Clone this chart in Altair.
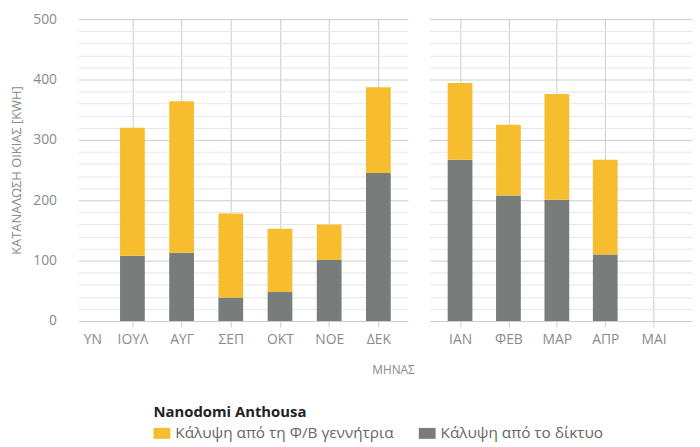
import altair as alt
import pandas as pd

# ---- data ----
months_h1 = ["ΙΟΥΝ", "ΙΟΥΛ", "ΑΥΓ", "ΣΕΠ", "ΟΚΤ", "ΝΟΕ", "ΔΕΚ"]
grid_h1 = [None, 108, 113, 39, 48, 101, 245]
pv_h1 = [None, 212, 251, 139, 105, 59, 142]

months_h2 = ["ΙΑΝ", "ΦΕΒ", "ΜΑΡ", "ΑΠΡ", "ΜΑΙ", "ΙΟΥΝ"]
grid_h2 = [267, 208, 201, 110, None, None]
pv_h2 = [127, 117, 175, 157, None, None]

S_PV = "Κάλυψη από τη Φ/Β γεννήτρια"
S_GRID = "Κάλυψη από το δίκτυο"
series = [S_PV, S_GRID]
colors = ["#F6BD2F", "#787C7B"]

y_ticks = list(range(0, 501, 20))

FONT = "Open Sans"
TXT = "#8a8a8a"


def frame(months, grid, pv):
    rows = []
    for i, m in enumerate(months):
        if grid[i] is not None:
            rows.append({"idx": i, "month": m, "series": S_GRID, "value": grid[i], "ord": 0})
        if pv[i] is not None:
            rows.append({"idx": i, "month": m, "series": S_PV, "value": pv[i], "ord": 1})
    return pd.DataFrame(rows)


def js_array(items):
    return "[" + ",".join("'" + s + "'" for s in items) + "]"


grid_cond = {"condition": {"test": "datum.value % 100 === 0", "value": "#cccccc"}, "value": "#e6e6e6"}

legend = alt.Legend(
    orient="none", legendX=76, legendY=390, direction="horizontal",
    title="Nanodomi Anthousa", titleFontSize=15, titleFontWeight="bold", titleColor="#222222",
    titleFont=FONT, titlePadding=5, titleLimit=0,
    labelFont=FONT, labelFontSize=15.5, labelColor="#666666", labelLimit=0,
    symbolType="M-1,-0.65H1V0.65H-1Z", symbolSize=289, symbolStrokeWidth=0,
    symbolOpacity=1, columnPadding=25, labelOffset=5,
)
color = alt.Color("series:N", scale=alt.Scale(domain=series, range=colors), legend=legend)
order = alt.Order("ord:Q")

# ---- left panel ----
arr1 = js_array(months_h1)
x1 = alt.X(
    "idx:Q",
    scale=alt.Scale(domain=[0, 6.5], nice=False, zero=False),
    axis=alt.Axis(
        values=list(range(len(months_h1))),
        labelExpr=f"datum.value === 0 ? slice({arr1}[0], 2) : {arr1}[datum.value]",
        labelAlign={"condition": {"test": "datum.value === 0", "value": "left"}, "value": "center"},
        gridColor={"condition": {"test": "datum.value === 0", "value": "transparent"}, "value": "#cccccc"},
        tickColor={"condition": {"test": "datum.value === 0", "value": "transparent"}, "value": "#cccccc"},
        tickSize=6, labelPadding=6, labelFlush=False, labelOverlap=False, domain=False,
        labelFont=FONT, labelFontSize=14, labelColor=TXT,
        title="ΜΗΝΑΣ", titleX=318, titleY=49, titleAlign="center", titleBaseline="middle",
        titleFont=FONT, titleFontSize=12, titleFontWeight="normal", titleColor=TXT,
    ),
)
y1 = alt.Y(
    "value:Q", stack="zero",
    scale=alt.Scale(domain=[0, 500], nice=False),
    axis=alt.Axis(
        values=y_ticks,
        labelExpr="datum.value % 100 === 0 ? datum.label : ''",
        labelOverlap=False, gridColor=grid_cond, ticks=False, domain=False,
        labelPadding=22, labelFont=FONT, labelFontSize=14, labelColor=TXT,
        title="ΚΑΤΑΝΑΛΩΣΗ ΟΙΚΙΑΣ [KWH]", titleFont=FONT, titleFontSize=13,
        titleFontWeight="normal", titleColor=TXT, titlePadding=9,
    ),
)
left = alt.Chart(frame(months_h1, grid_h1, pv_h1)).mark_bar(size=25).encode(
    x=x1, y=y1, color=color, order=order
).properties(width=333, height=305)

# ---- right panel ----
arr2 = js_array(months_h2)
x2 = alt.X(
    "idx:Q",
    scale=alt.Scale(domain=[-0.525, 4.69], nice=False, zero=False),
    axis=alt.Axis(
        values=list(range(5)),
        labelExpr=f"{arr2}[datum.value]",
        gridColor="#cccccc", tickColor="#cccccc",
        tickSize=6, labelPadding=6, labelFlush=False, labelOverlap=False, domain=False,
        labelFont=FONT, labelFontSize=14, labelColor=TXT, title=None,
    ),
)
y2 = alt.Y(
    "value:Q", stack="zero",
    scale=alt.Scale(domain=[0, 500], nice=False),
    axis=alt.Axis(values=y_ticks, labels=False, ticks=False, domain=False,
                  gridColor=grid_cond, title=None),
)
right = alt.Chart(frame(months_h2, grid_h2, pv_h2)).mark_bar(size=25).encode(
    x=x2, y=y2, color=color, order=order
).properties(width=265, height=305)

chart = alt.hconcat(left, right, spacing=15).resolve_legend(color="shared").properties(
    padding={"left": 2, "top": 2, "right": 0, "bottom": 0}
).configure_view(stroke=None)

chart.save("out.html", embed_options={"renderer": "svg", "actions": False})
